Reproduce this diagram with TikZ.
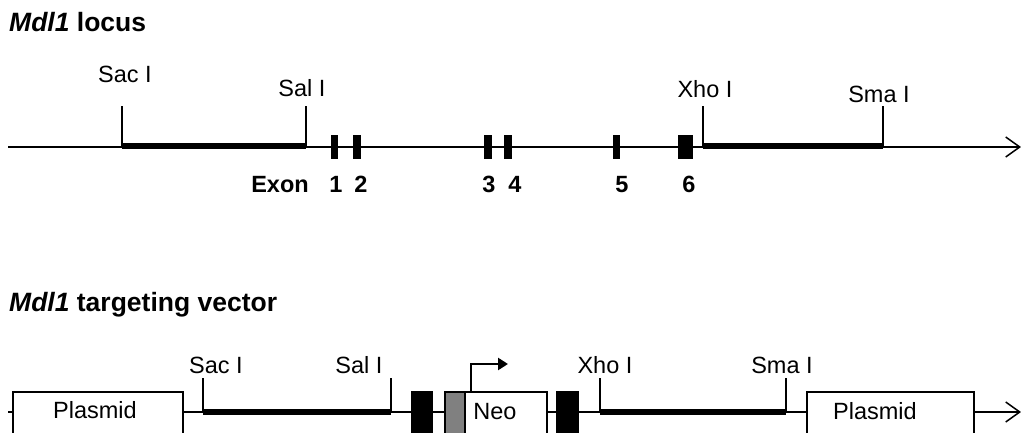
\documentclass[tikz,border=0pt]{standalone}
\usepackage{fontspec}
\setmainfont{Liberation Sans}
\usetikzlibrary{arrows.meta}
\begin{document}
\begin{tikzpicture}[x=1pt,y=-1pt,
  lbl/.style={font=\fontsize{23.5}{26}\selectfont, inner sep=0pt, anchor=base},
  num/.style={font=\fontsize{23.5}{26}\selectfont\bfseries, inner sep=0pt, anchor=base},
  ttl/.style={font=\fontsize{26.5}{30}\selectfont\bfseries, inner sep=0pt, anchor=base west},
  dna/.style={line width=1.5pt},
  endarrow/.style={-{Straight Barb[length=14pt,width=20pt,line width=1.5pt]}},
  arm/.style={line width=6pt},
  site/.style={line width=1.3pt},
  exon/.style={fill=black, draw=none, inner sep=0pt, minimum height=24pt},
  boxline/.style={draw, line width=1.5pt, fill=white},
  blk/.style={fill=black},
  gry/.style={fill=gray, draw, line width=1.5pt},
]
\useasboundingbox (0,0) rectangle (1021,433);

% ---------- Mdl1 locus ----------
\node[ttl] (t1) at (9,32) {\textit{Mdl1} locus};
\coordinate (a0) at (8,147);
\coordinate (a1) at (1021,147);
\draw[dna,endarrow] (a0) -- (a1);

\coordinate (sac1) at (122,146);
\coordinate (sal1) at (306,146);
\coordinate (xho1) at (703,146);
\coordinate (sma1) at (883,146);
\draw[arm] (sac1) -- (sal1);
\draw[arm] (xho1) -- (sma1);
\draw[site] (sac1) -- ++(0,-40);
\draw[site] (sal1) -- ++(0,-40);
\draw[site] (xho1) -- ++(0,-40);
\draw[site] (sma1) -- ++(0,-40);

\node[lbl] (sac1l) at (125,83) {Sac I};
\node[lbl] (sal1l) at (302,97) {Sal I};
\node[lbl] (xho1l) at (705,98) {Xho I};
\node[lbl] (sma1l) at (879,103) {Sma I};

\node[exon, minimum width=7pt] (e1) at (334,147) {};
\node[exon, minimum width=7.5pt] (e2) at (357,147) {};
\node[exon, minimum width=7.5pt] (e3) at (488,147) {};
\node[exon, minimum width=7.5pt] (e4) at (508,147) {};
\node[exon, minimum width=7pt] (e5) at (616,147) {};
\node[exon, minimum width=15pt] (e6) at (685,147) {};

\node[num] (exl) at (280,193) {Exon};
\node[num] (n1) at (336,193) {1};
\node[num] (n2) at (361,193) {2};
\node[num] (n3) at (489,193) {3};
\node[num] (n4) at (515,193) {4};
\node[num] (n5) at (622,193) {5};
\node[num] (n6) at (689,193) {6};

% ---------- targeting vector ----------
\node[ttl] (t2) at (9,311) {\textit{Mdl1} targeting vector};
\coordinate (b0) at (8,412);
\coordinate (b1) at (1021,412);
\draw[dna,endarrow] (b0) -- (b1);

\coordinate (sac2) at (203,412);
\coordinate (sal2) at (391,412);
\coordinate (xho2) at (600,412);
\coordinate (sma2) at (786,412);
\draw[arm] (sac2) -- (sal2);
\draw[arm] (xho2) -- (sma2);
\draw[site] (sac2) -- ++(0,-34);
\draw[site] (sal2) -- ++(0,-34);
\draw[site] (xho2) -- ++(0,-34);
\draw[site] (sma2) -- ++(0,-34);

\node[lbl] (sac2l) at (216,373) {Sac I};
\node[lbl] (sal2l) at (359,373) {Sal I};
\node[lbl] (xho2l) at (605,373) {Xho I};
\node[lbl] (sma2l) at (782,373) {Sma I};

\path[boxline] (13,392) rectangle (183,440);
\node[lbl] (p1l) at (95,418) {Plasmid};
\path[blk] (411,391) rectangle (433,440);
\path[gry] (445,392) rectangle (465,440);
\path[boxline] (465,392) rectangle (547,440);
\node[lbl] (neol) at (495,419) {Neo};
\path[blk] (556,391) rectangle (579,440);
\path[boxline] (807,392) rectangle (974,440);
\node[lbl] (p2l) at (875,419) {Plasmid};

\coordinate (prom) at (471,392);
\coordinate (promend) at (508,364);
\draw[line width=2.5pt, -{Triangle[length=10pt,width=12pt]}] (prom) |- (promend);
\end{tikzpicture}
\end{document}
